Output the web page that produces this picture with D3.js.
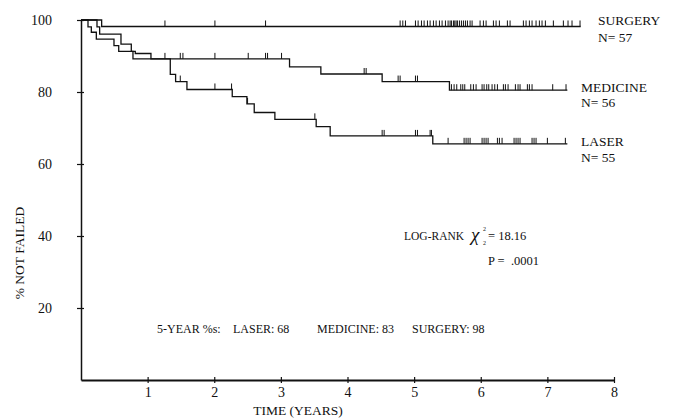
<!DOCTYPE html>
<html>
<head>
<meta charset="utf-8">
<script src="https://cdn.jsdelivr.net/npm/d3@7"></script>
<style>
  html, body { margin: 0; padding: 0; background: #fff; }
  svg { display: block; }
  text { font-family: "Liberation Serif", "Times New Roman", serif; fill: #111; }
</style>
</head>
<body>
<svg id="chart" width="679" height="418"></svg>
<script>
// ---- data ----
const xTicks = [1, 2, 3, 4, 5, 6, 7, 8];
const yTicks = [20, 40, 60, 80, 100];

// step change points: [time (years), % not failed]
const surgerySteps = [[0, 100], [0.31, 98.2]];
const surgeryEnd = 7.50;
const medicineSteps = [[0, 100], [0.24, 98.1], [0.28, 96.1], [0.60, 93.3], [0.755, 91.3], [0.815, 90.7],
  [1.05, 89.2], [3.13, 87.0], [3.60, 85.0], [4.52, 82.9], [5.53, 80.5]];
const medicineEnd = 7.30;
const laserSteps = [[0, 100], [0.105, 98.1], [0.155, 96.6], [0.23, 94.7], [0.495, 92.9], [0.566, 91.3],
  [0.78, 89.2], [1.34, 84.9], [1.42, 82.9], [1.59, 80.7], [2.27, 78.7], [2.49, 76.7], [2.60, 74.3],
  [2.91, 72.4], [3.53, 70.4], [3.74, 67.8], [5.28, 65.6]];
const laserEnd = 7.30;

// censoring times (years)
const surgeryCensored = [1.26, 2.01, 2.77, 4.79, 4.83, 4.87, 5.02, 5.06, 5.11, 5.15, 5.20, 5.24, 5.29, 5.33,
  5.38, 5.42, 5.47, 5.51, 5.54, 5.56, 5.59, 5.61, 5.63, 5.65, 5.68, 5.71, 5.74, 5.77, 5.80, 5.84, 5.87,
  5.99, 6.04, 6.08, 6.19, 6.23, 6.28, 6.40, 6.44, 6.64, 6.68, 6.73, 6.77, 6.83, 6.88, 6.92, 6.97,
  7.09, 7.24, 7.31, 7.37, 7.49];
const medicineCensored = [1.26, 1.49, 1.53, 2.01, 2.51, 2.77, 2.80, 3.01, 4.25, 4.28, 4.76, 4.79, 5.02, 5.05,
  5.56, 5.60, 5.64, 5.70, 5.73, 5.76, 5.85, 5.89, 5.93, 6.02, 6.05, 6.09, 6.12, 6.17, 6.21, 6.25,
  6.34, 6.37, 6.41, 6.52, 6.56, 6.59, 6.70, 6.73, 6.77, 7.08, 7.28];
const laserCensored = [1.49, 2.01, 2.26, 2.50, 3.51, 4.52, 4.55, 5.02, 5.05, 5.24, 5.26,
  5.51, 5.75, 5.78, 5.81, 5.84, 6.02, 6.05, 6.08, 6.11, 6.25, 6.28, 6.32, 6.50, 6.53, 6.56, 6.59,
  6.77, 6.80, 6.83, 7.00, 7.27];

const groupLabels = ["SURGERY", "MEDICINE", "LASER"];
const groupN = [57, 56, 55];
const fiveYear = [["LASER", 68], ["MEDICINE", 83], ["SURGERY", 98]];
const chiSquare = "18.16";
const pValue = ".0001";

// ---- drawing ----
const svg = d3.select("#chart");
const ink = "#111";
const x = d3.scaleLinear().domain([0, 8]).range([81, 614]);
const y = d3.scaleLinear().domain([0, 100]).range([380, 20]);

// axes
const xAxis = svg.append("g").attr("transform", `translate(0,${y(0)})`)
  .call(d3.axisBottom(x).tickValues(xTicks).tickSize(3).tickPadding(7).tickSizeOuter(0));
xAxis.select(".domain").attr("stroke", ink).attr("stroke-width", 1.8);
xAxis.selectAll(".tick line").attr("y1", -3).attr("y2", 3).attr("stroke", ink).attr("stroke-width", 1.2);
xAxis.selectAll(".tick text").attr("font-size", 14).attr("fill", ink)
  .attr("font-family", "Liberation Serif").attr("y", 7);

const yAxis = svg.append("g").attr("transform", `translate(${x(0)},0)`)
  .call(d3.axisLeft(y).tickValues(yTicks).tickSize(4).tickPadding(25).tickSizeOuter(0));
yAxis.select(".domain").attr("stroke", ink).attr("stroke-width", 1.5);
yAxis.selectAll(".tick line").attr("x1", -4).attr("x2", 3).attr("stroke", ink).attr("stroke-width", 1.2);
yAxis.selectAll(".tick text").attr("font-size", 14).attr("fill", ink)
  .attr("font-family", "Liberation Serif");

// axis titles
svg.append("text").attr("transform", `translate(24,253) rotate(-90)`)
  .attr("text-anchor", "middle").attr("font-size", 13.5).text("% NOT FAILED");
svg.append("text").attr("x", 298).attr("y", 415)
  .attr("text-anchor", "middle").attr("font-size", 13.5).text("TIME (YEARS)");

// survival curves
const line = d3.line().x(d => x(d[0])).y(d => y(d[1])).curve(d3.curveStepAfter);
function stepValue(steps, t) {
  const i = d3.bisector(d => d[0]).right(steps, t) - 1;
  return steps[Math.max(0, i)][1];
}
const groups = [
  { steps: surgerySteps, end: surgeryEnd, cens: surgeryCensored },
  { steps: medicineSteps, end: medicineEnd, cens: medicineCensored },
  { steps: laserSteps, end: laserEnd, cens: laserCensored }
];
groups.forEach(g => {
  const pts = g.steps.concat([[g.end, g.steps[g.steps.length - 1][1]]]);
  svg.append("path").attr("d", line(pts)).attr("fill", "none")
    .attr("stroke", ink).attr("stroke-width", 1.3);
  svg.append("g").selectAll("line").data(g.cens).join("line")
    .attr("x1", d => x(d)).attr("x2", d => x(d))
    .attr("y1", d => y(stepValue(g.steps, d)))
    .attr("y2", d => y(stepValue(g.steps, d)) - 6)
    .attr("stroke", ink).attr("stroke-width", 1);
});

// group labels
const labelPos = [[598, 25, 42], [581, 92, 107], [581, 146, 162]];
groupLabels.forEach((lab, i) => {
  const p = labelPos[i];
  svg.append("text").attr("x", p[0]).attr("y", p[1]).attr("font-size", 13.5).text(lab);
  svg.append("text").attr("x", p[0]).attr("y", p[2]).attr("font-size", 13.5).text("N= " + groupN[i]);
});

// log-rank annotation
svg.append("text").attr("x", 404).attr("y", 240).attr("font-size", 11.5).text("LOG-RANK");
svg.append("text").attr("x", 471).attr("y", 241).attr("font-size", 19).attr("font-style", "italic")
  .text("\u03C7");
svg.append("text").attr("x", 483).attr("y", 231).attr("font-size", 6).text("2");
svg.append("text").attr("x", 483).attr("y", 245).attr("font-size", 6).text("2");
svg.append("text").attr("x", 488).attr("y", 240).attr("font-size", 12.5)
  .attr("xml:space", "preserve").text("= " + chiSquare);
svg.append("text").attr("x", 488).attr("y", 265).attr("font-size", 12.5)
  .attr("xml:space", "preserve").text("P =  " + pValue);

// 5-year summary
svg.append("text").attr("x", 157).attr("y", 333).attr("font-size", 12).text("5-YEAR %s:");
const fyX = [233, 317, 412];
fiveYear.forEach((d, i) => {
  svg.append("text").attr("x", fyX[i]).attr("y", 333).attr("font-size", 12).text(d[0] + ": " + d[1]);
});
</script>
</body>
</html>
